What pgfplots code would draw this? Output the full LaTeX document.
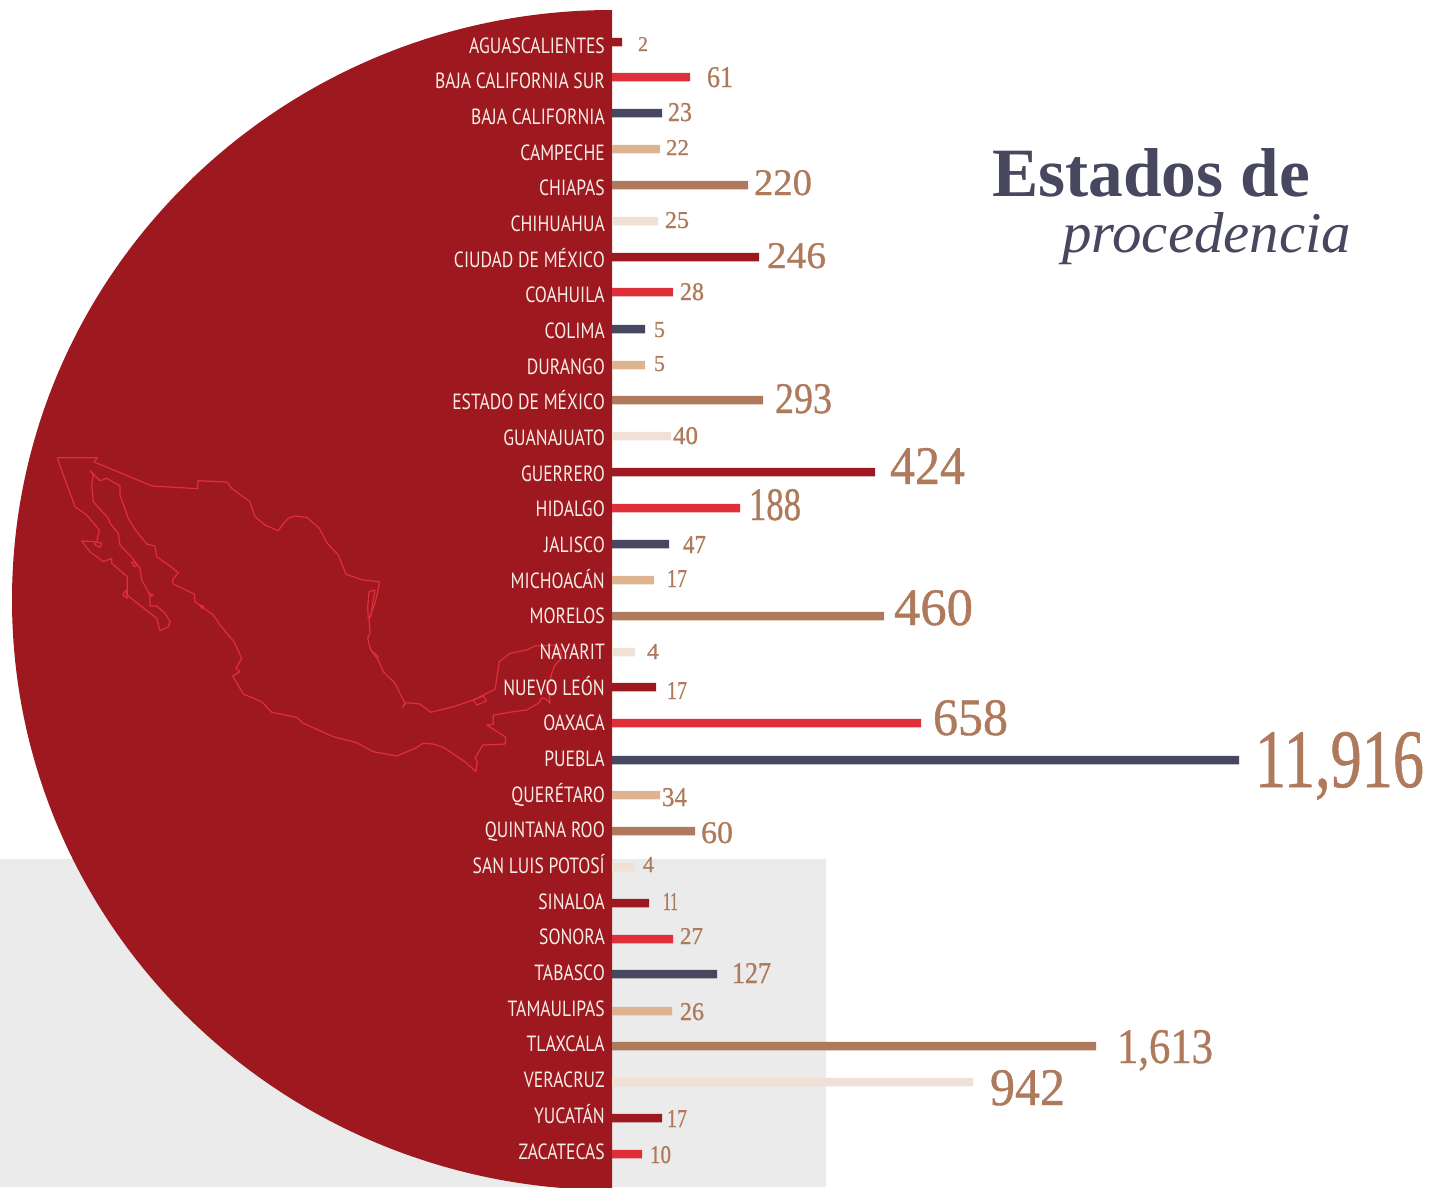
\documentclass[border=0pt]{standalone}
\usepackage{graphicx}
\usepackage{fontspec}
\usepackage{pgfplots}
\pgfplotsset{compat=1.18}
\setmainfont{Liberation Serif}
\newfontfamily\cond[FakeStretch=0.80]{PT Sans}
\newfontfamily\numf[FakeBold=0.8]{Liberation Serif}
\definecolor{cdark}{HTML}{9E1820}
\definecolor{cred}{HTML}{DE2F3A}
\definecolor{cnavy}{HTML}{47475F}
\definecolor{ctan}{HTML}{DDB48F}
\definecolor{cbrown}{HTML}{AE7A5B}
\definecolor{clight}{HTML}{EFE1D6}
\definecolor{cgrey}{HTML}{EBEBEB}
\definecolor{clab}{HTML}{F7ECE6}
\newcommand{\numlab}[5]{\node[anchor=base west,inner sep=0pt,outer sep=0pt,text=cbrown] at (axis cs:#1,#3) {\resizebox{#2pt}{#4pt}{\numf #5}};}
\begin{document}
\begin{tikzpicture}
\begin{axis}[
  name=ax, scale only axis, x=1pt, y=1pt,
  xmin=-612, xmax=820, ymin=0, ymax=1187, y dir=reverse,
  axis x line=none, axis y line=middle,
  axis on top=true,
  y axis line style={draw=none,-},
  major tick length=0pt, tick style={draw=none},
  xtick=\empty,
  ytick={45,80.68,116.35,152.03,187.71,223.39,259.06,294.74,330.42,366.1,401.77,437.45,473.13,508.81,544.48,580.16,615.84,651.52,687.19,722.87,758.55,794.23,829.9,865.58,901.26,936.94,972.61,1008.29,1043.97,1079.65,1115.32,1151},
  yticklabels={AGUASCALIENTES,BAJA CALIFORNIA SUR,BAJA CALIFORNIA,CAMPECHE,CHIAPAS,CHIHUAHUA,CIUDAD DE MÉXICO,COAHUILA,COLIMA,DURANGO,ESTADO DE MÉXICO,GUANAJUATO,GUERRERO,HIDALGO,JALISCO,MICHOACÁN,MORELOS,NAYARIT,NUEVO LEÓN,OAXACA,PUEBLA,QUERÉTARO,QUINTANA ROO,SAN LUIS POTOSÍ,SINALOA,SONORA,TABASCO,TAMAULIPAS,TLAXCALA,VERACRUZ,YUCATÁN,ZACATECAS},
  yticklabel style={anchor=east,inner sep=0pt,text=clab,font={\fontsize{22}{22}\selectfont\cond},text height=16pt,text depth=0pt},
  tick label style={xshift=-7pt},
  clip=true,
]
\fill[cgrey] (axis cs:-612,859) rectangle (axis cs:214,1187);
\fill[cdark] (axis cs:0,10) arc[start angle=90,end angle=270,x radius=600pt,y radius=590pt] -- cycle;

\pgfplotsset{mapline/.style={color=cred,line width=1.2pt,line join=round,x filter/.code={\pgfmathparse{##1-612}}}}
\addplot[mapline] coordinates {
(57.3,457.7)(97.3,457.7)(94.3,462)(152.3,486)(197.7,488.7)(198,480.7)(226.7,482)(231.7,488.3)(250,501.7)(255,516.7)(265,525)(278.3,530.7)(283,524)(288.3,518.3)(294,516)(306.7,517.3)(319.3,528.3)(327.3,543.3)(338.3,555)(346,574.3)(363.3,580)(379.3,581.7)(377.7,591.7)(375,603.3)(369,618.3)(370,633.3)(367.7,638.3)(370.7,650)(378.3,660)(383.3,671.7)(395,683.3)(403.3,700)(405,702.7)(402.7,707.3)(406,702.7)(420,704)(430.7,712.3)(453.3,706.7)(473.3,700)(476.7,705)(486.7,701)(483.3,696)(473.3,700)(495,689.3)(499.3,661.7)(510,653.3)(526.7,650)(535,646)(555,645)(560.7,650)(561.7,658.3)(555,665)(551.7,673.3)(548.3,686.7)(550,703.3)(545,698.3)(541.7,698.3)(538.3,703.3)(526.7,710)(513.3,711.7)(493.3,715)(493.3,724.3)(486.7,725)(506,737.3)(505,744)(482.7,745)(475,758.3)(477.3,761.7)(476,771.7)(465,761.7)(443.3,747.3)(433.3,744)(423.3,743.3)(415,748.3)(396.7,756)(373.3,751.7)(356.7,742.7)(333.3,736.7)(303.3,723.3)(296.7,717.3)(271.7,712.3)(261.7,701.7)(243.3,694)(232.7,676)(240,671.7)(236,668.3)(241.7,658.3)(234,641.7)(220,625)(213.3,615)(195,601.7)(194.3,594)(173.3,584)(172.3,580)(178.3,572.7)(170,566)(156.7,556.7)(155,546)(146.7,544)(135,529.3)(128.3,518.3)(120,495)(120,486)(106.7,478.3)(100,480.7)(90,470.7)(93.3,475)(91.7,485)(93.3,501.7)(108.3,518.3)(110,523.3)(118.3,533.3)(120,545)(131.7,557.3)(140,568.3)(141.7,580)(150,595)(150,606)(156.7,606)(165,613.3)(170,621.7)(168.3,626.7)(160,630.7)(156.7,618.3)(133.3,600)(127.3,595)(127.3,576.7)(111.7,563.3)(111.7,558.3)(103.3,561.7)(90,551.7)(81.7,541)(96.7,541.7)(99.3,530)(86.7,515)(75,506.7)(70.7,495)(62.7,473.3)(57.3,457.7)
};
\addplot[mapline] coordinates {(375,590)(369,591.7)(367.7,606.7)(368.3,618.3)(370.7,616.7)(372.7,603.3)(375,590)};
\addplot[mapline] coordinates {(370.7,650)(378.3,656.7)(377.3,660)};
\addplot[mapline] coordinates {(95,541.7)(101.7,543.3)(100,547.3)(95,545)(95,541.7)};
\addplot[mapline] coordinates {(133.3,561.7)(137.3,565)(134.3,566.7)(131.7,562.7)(133.3,561.7)};
\addplot[mapline] coordinates {(126,590)(127.3,598.3)(122.7,595)(126,590)};
\addplot[mapline] coordinates {(148.3,593.3)(153.3,595)(150,596.7)};
\addplot[mapline] coordinates {(200,605)(204,606.7)(201.7,608.3)(200,605)};

\addplot[xbar,bar width=8.5pt,bar shift=0pt,fill=cdark,draw=none] coordinates {(10,42)(147,257)(263,472)(44,687)(37,903)(50,1118)};
\addplot[xbar,bar width=8.5pt,bar shift=0pt,fill=cred,draw=none] coordinates {(78,77)(61,292)(128,508)(309,723)(61,939)(30,1154)};
\addplot[xbar,bar width=8.5pt,bar shift=0pt,fill=cnavy,draw=none] coordinates {(50,113)(33,329)(57,544)(627,760)(105,974)};
\addplot[xbar,bar width=8.5pt,bar shift=0pt,fill=ctan,draw=none] coordinates {(48,149)(33,365)(42,580)(48,795)(60,1011)};
\addplot[xbar,bar width=8.5pt,bar shift=0pt,fill=cbrown,draw=none] coordinates {(136,185)(151,400)(272,616)(83,831)(484,1046)};
\addplot[xbar,bar width=8.5pt,bar shift=0pt,fill=clight,draw=none] coordinates {(46,221)(59,436)(23,652)(23,867)(361,1082)};

\numlab{26}{10}{51}{14}{2}
\numlab{95}{26}{87}{20}{61}
\numlab{56}{24}{121}{18}{23}
\numlab{54}{23}{155}{15}{22}
\numlab{142}{58}{195}{25}{220}
\numlab{53}{24}{228}{16}{25}
\numlab{155}{59}{268}{25}{246}
\numlab{68}{24}{300}{17}{28}
\numlab{42}{11}{337}{15}{5}
\numlab{42}{11}{371}{15}{5}
\numlab{163}{57}{413}{29}{293}
\numlab{61}{25}{444}{17}{40}
\numlab{278}{75}{484}{36}{424}
\numlab{137}{52}{520}{31}{188}
\numlab{71}{23}{553}{17}{47}
\numlab{55}{20}{587}{17}{17}
\numlab{282}{79}{625}{35}{460}
\numlab{35}{12}{659}{15}{4}
\numlab{55}{20}{699}{17}{17}
\numlab{321}{75}{735}{35}{658}
\numlab{643}{169}{787}{55}{11,916}
\numlab{50}{25}{806}{18}{34}
\numlab{89}{32}{843}{21}{60}
\numlab{31}{11}{872}{15}{4}
\numlab{51}{15}{910}{17}{11}
\numlab{68}{23}{944}{16}{27}
\numlab{120}{39}{983}{20}{127}
\numlab{68}{24}{1020}{17}{26}
\numlab{505}{96}{1063}{33}{1,613}
\numlab{378}{75}{1105}{35}{942}
\numlab{55}{20}{1127}{17}{17}
\numlab{38}{21}{1163}{17}{10}

\node[anchor=base west,inner sep=0pt,text=cnavy] at (axis cs:380,196) {\resizebox{318pt}{48pt}{\bfseries Estados de}};
\node[anchor=base west,inner sep=0pt,text=cnavy] at (axis cs:450,252) {\resizebox{289pt}{40pt}{\itshape procedencia}};
\end{axis}
\pgfresetboundingbox
\path (ax.south west) rectangle (ax.north east);
\end{tikzpicture}
\end{document}
